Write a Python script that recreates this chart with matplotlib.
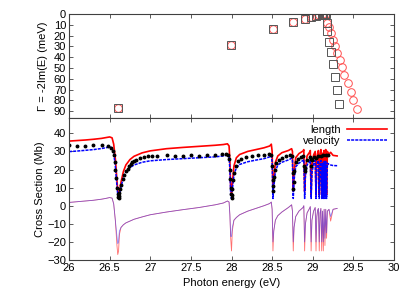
import matplotlib
matplotlib.use("Agg")
import matplotlib.pyplot as plt
from matplotlib.ticker import FormatStrFormatter, MultipleLocator

plt.rcParams['font.family'] = ['Liberation Sans', 'DejaVu Sans']

# top panel: resonance widths
gam_e = [26.60, 27.99, 28.51, 28.76, 28.90, 28.98, 29.04, 29.08, 29.11, 29.13, 29.15, 29.16]
gam_w = [87, 29, 13.8, 7.4, 4.3, 2.5, 1.6, 1.1, 0.8, 0.6, 0.5, 0.4]
sq_e = [29.17, 29.18, 29.20, 29.22, 29.245, 29.27, 29.30, 29.32]
sq_w = [8.0, 15.7, 25.6, 35.5, 46.3, 58.6, 70.4, 83.3]
ci_e = [29.18, 29.20, 29.225, 29.25, 29.27, 29.30, 29.33, 29.36, 29.39, 29.43, 29.47, 29.50, 29.55]
ci_w = [8.0, 11.7, 17.9, 24.1, 29.6, 35.8, 42.6, 48.8, 56.5, 64.2, 71.9, 79.6, 88.3]

# bottom panel: cross sections
energy = [26.00, 26.10, 26.20, 26.30, 26.40, 26.45, 26.50, 26.53, 26.55, 26.57, 26.59, 26.60,
          26.61, 26.62, 26.64, 26.67, 26.70, 26.75, 26.80, 26.90, 27.00, 27.20, 27.40, 27.60,
          27.80, 27.90, 27.95, 27.97, 27.98, 27.99, 28.00, 28.01, 28.03, 28.06, 28.10, 28.20,
          28.30, 28.40, 28.47, 28.49, 28.50, 28.51, 28.52, 28.54, 28.57, 28.62, 28.70, 28.74,
          28.75, 28.76, 28.77, 28.79, 28.83, 28.88, 28.89, 28.90, 28.91, 28.93, 28.96, 28.97,
          28.98, 28.99, 29.01, 29.03, 29.04, 29.05, 29.06, 29.07, 29.08, 29.09, 29.10, 29.11,
          29.12, 29.13, 29.14, 29.15, 29.16, 29.17, 29.18, 29.20, 29.22, 29.25, 29.30]
length = [35.7, 36.0, 36.3, 36.7, 37.2, 37.6, 38.0, 37.5, 34.0, 26.0, 14.0, 8.0,
          6.0, 7.5, 13.0, 19.0, 22.5, 25.5, 27.3, 29.2, 30.3, 31.5, 32.2, 32.8,
          33.4, 33.8, 34.2, 33.0, 25.0, 10.0, 7.0, 12.0, 22.0, 26.5, 28.3, 30.0,
          31.0, 32.0, 33.0, 34.0, 30.0, 8.0, 14.0, 24.0, 27.5, 29.3, 30.5, 31.5,
          30.0, 8.0, 18.0, 26.5, 28.8, 30.2, 31.0, 8.0, 20.0, 27.5, 29.5, 30.5,
          6.0, 22.0, 28.0, 30.0, 6.0, 26.0, 29.0, 30.5, 6.0, 28.0, 31.0, 6.0,
          29.0, 6.0, 30.5, 6.0, 31.0, 6.0, 30.0, 28.5, 29.5, 27.8, 27.5]
velocity = [29.9, 30.2, 30.6, 31.0, 31.6, 32.0, 32.5, 32.0, 29.0, 22.0, 11.0, 6.0,
            4.5, 6.0, 10.5, 15.5, 18.5, 21.0, 22.5, 24.0, 24.8, 25.5, 26.0, 26.5,
            27.0, 27.5, 28.0, 27.0, 20.0, 6.0, 4.0, 9.0, 17.0, 21.0, 22.8, 24.3,
            25.2, 26.0, 27.0, 27.8, 24.0, 4.0, 10.0, 19.0, 22.5, 24.0, 25.3, 26.2,
            25.0, 4.0, 14.0, 21.5, 23.5, 25.0, 25.5, 4.0, 16.0, 22.5, 24.5, 25.2,
            4.0, 18.0, 23.0, 25.0, 4.0, 21.0, 24.0, 25.0, 4.0, 23.0, 25.0, 4.0,
            23.5, 4.0, 24.5, 4.0, 24.5, 4.0, 23.5, 22.8, 22.5, 22.2, 22.1]
low_len = [1.8, 2.2, 2.6, 3.0, 3.6, 4.0, 4.5, 4.2, 1.0, -8.0, -22.0, -27.0,
           -25.0, -16.0, -12.0, -10.5, -9.5, -8.5, -7.5, -6.2, -5.0, -3.5, -2.2, -1.0,
           0.5, 1.5, 2.6, 2.0, -5.0, -18.0, -25.0, -14.0, -8.0, -6.5, -5.0, -3.0,
           -1.5, 0.0, 1.2, 2.0, -2.0, -25.0, -14.0, -8.0, -5.5, -3.5, -1.0, 0.5,
           -3.0, -25.0, -12.0, -6.0, -3.0, -1.0, 0.0, -25.0, -10.0, -4.0, -1.5, -0.5,
           -25.0, -8.0, -3.0, -1.0, -25.0, -6.0, -2.5, -1.5, -25.0, -4.0, -1.5, -25.0,
           -3.0, -25.0, -2.0, -22.0, -2.0, -18.0, -3.0, -2.0, -8.5, -2.0, -1.5]
low_vel = [1.8, 2.2, 2.6, 3.0, 3.6, 4.0, 4.5, 4.2, 1.0, -8.0, -17.0, -21.0,
           -20.0, -14.0, -12.0, -10.5, -9.5, -8.5, -7.5, -6.2, -5.0, -3.5, -2.2, -1.0,
           0.5, 1.5, 2.6, 2.0, -5.0, -17.0, -17.0, -12.0, -8.0, -6.5, -5.0, -3.0,
           -1.5, 0.0, 1.2, 2.0, -2.0, -20.0, -14.0, -8.0, -5.5, -3.5, -1.0, 0.5,
           -3.0, -20.0, -12.0, -6.0, -3.0, -1.0, 0.0, -20.0, -10.0, -4.0, -1.5, -0.5,
           -20.0, -8.0, -3.0, -1.0, -20.0, -6.0, -2.5, -1.5, -20.0, -4.0, -1.5, -20.0,
           -3.0, -20.0, -2.0, -18.0, -2.0, -15.0, -3.0, -2.0, -6.0, -2.0, -1.5]

# measured points
exp_e = [26.00, 26.10, 26.20, 26.30, 26.40, 26.48, 26.52, 26.54, 26.55, 26.56, 26.57, 26.58,
         26.59, 26.60, 26.605, 26.61, 26.615, 26.62, 26.63, 26.64, 26.66, 26.68, 26.70, 26.72,
         26.74, 26.76, 26.78, 26.80, 26.83, 26.87, 26.92, 26.97, 27.02, 27.08, 27.20, 27.30,
         27.40, 27.50, 27.60, 27.70, 27.80, 27.88, 27.93, 27.96, 27.97, 27.98, 27.985, 27.99,
         27.995, 28.00, 28.005, 28.01, 28.02, 28.03, 28.05, 28.08, 28.12, 28.18, 28.25, 28.33,
         28.40, 28.46, 28.49, 28.50, 28.505, 28.51, 28.515, 28.52, 28.53, 28.55, 28.58, 28.62,
         28.67, 28.72, 28.745, 28.755, 28.76, 28.765, 28.77, 28.79, 28.82, 28.86, 28.885, 28.895,
         28.90, 28.91, 28.93, 28.96, 28.975, 28.98, 28.99, 29.01, 29.04, 29.07, 29.10, 29.13,
         29.16, 29.19]
exp_s = [33.5, 33.0, 33.0, 33.3, 33.6, 33.0, 32.0, 30.5, 28.0, 24.0, 20.0, 15.5,
         10.0, 6.5, 5.0, 4.5, 5.5, 7.0, 9.0, 11.5, 14.5, 17.0, 19.0, 20.5,
         22.0, 23.0, 24.0, 24.8, 25.5, 26.3, 27.0, 27.5, 27.5, 27.3, 28.0, 27.3,
         27.2, 28.0, 27.5, 27.8, 28.2, 28.5, 28.6, 28.0, 26.0, 20.0, 15.0, 10.0,
         6.5, 4.5, 6.0, 9.0, 14.0, 18.0, 22.0, 24.5, 26.0, 27.0, 27.5, 27.8,
         28.0, 28.5, 28.0, 22.0, 14.0, 8.0, 11.0, 16.0, 20.0, 23.5, 25.5, 26.5,
         27.3, 27.8, 27.5, 18.0, 9.0, 13.0, 19.0, 24.0, 26.0, 27.0, 27.3, 22.0,
         19.0, 21.0, 25.5, 27.0, 26.0, 22.0, 25.0, 27.0, 26.5, 27.5, 27.5, 27.8,
         28.0, 27.8]

fig = plt.figure(figsize=(4.15, 2.97), dpi=100)
ax1 = fig.add_axes([0.1663, 0.6017, 0.7831, 0.3512])
ax2 = fig.add_axes([0.1663, 0.1246, 0.7831, 0.4771])

edge = '#404040'
for ax in (ax1, ax2):
    ax.tick_params(direction='in', top=True, right=True, length=3, width=0.6,
                   labelsize=8, color=edge, pad=2)
    for s in ax.spines.values():
        s.set_color(edge)
        s.set_linewidth(0.8)
    ax.set_xlim(26, 30)
    ax.xaxis.set_major_locator(MultipleLocator(0.5))

# top panel
ax1.plot(gam_e, gam_w, 'o', ms=5.5, mfc='none', mec='#ff5050', mew=0.7)
ax1.plot(ci_e, ci_w, 'o', ms=5.5, mfc='none', mec='#ff5050', mew=0.7)
ax1.plot(gam_e, gam_w, 's', ms=5.8, mfc='none', mec='#555555', mew=0.7)
ax1.plot(sq_e, sq_w, 's', ms=5.8, mfc='none', mec='#555555', mew=0.7)
ax1.set_ylim(96.6, 0)
ax1.set_yticks(range(0, 100, 10))
ax1.tick_params(labelbottom=False)
ax1.set_ylabel(u'\u0393 = -2Im(E) (meV)', fontsize=8, labelpad=4)

# bottom panel
ax2.plot(energy, length, color='#ff0000', lw=1.2, label='length')
ax2.plot(energy, velocity, color='#0000ff', lw=1.1, ls=(0, (2, 0.7)), label='velocity')
ax2.plot(energy, low_len, color='#ff3030', lw=0.6, alpha=0.7)
ax2.plot(energy, low_vel, color='#3030ff', lw=0.6, alpha=0.55)
ax2.plot(exp_e, exp_s, 'o', ms=1.8, color='black')
ax2.set_ylim(-30, 48.3)
ax2.set_yticks(range(-30, 50, 10))
ax2.xaxis.set_major_formatter(FormatStrFormatter('%g'))
ax2.set_ylabel('Cross Section (Mb)', fontsize=8, labelpad=2)
ax2.set_xlabel('Photon energy (eV)', fontsize=8, labelpad=4)
ax2.legend(loc='upper right', frameon=False, fontsize=8, markerfirst=False,
           handlelength=3.6, handletextpad=0.6, labelspacing=0.1,
           borderaxespad=0.2)

fig.savefig('out.png', dpi=100)
